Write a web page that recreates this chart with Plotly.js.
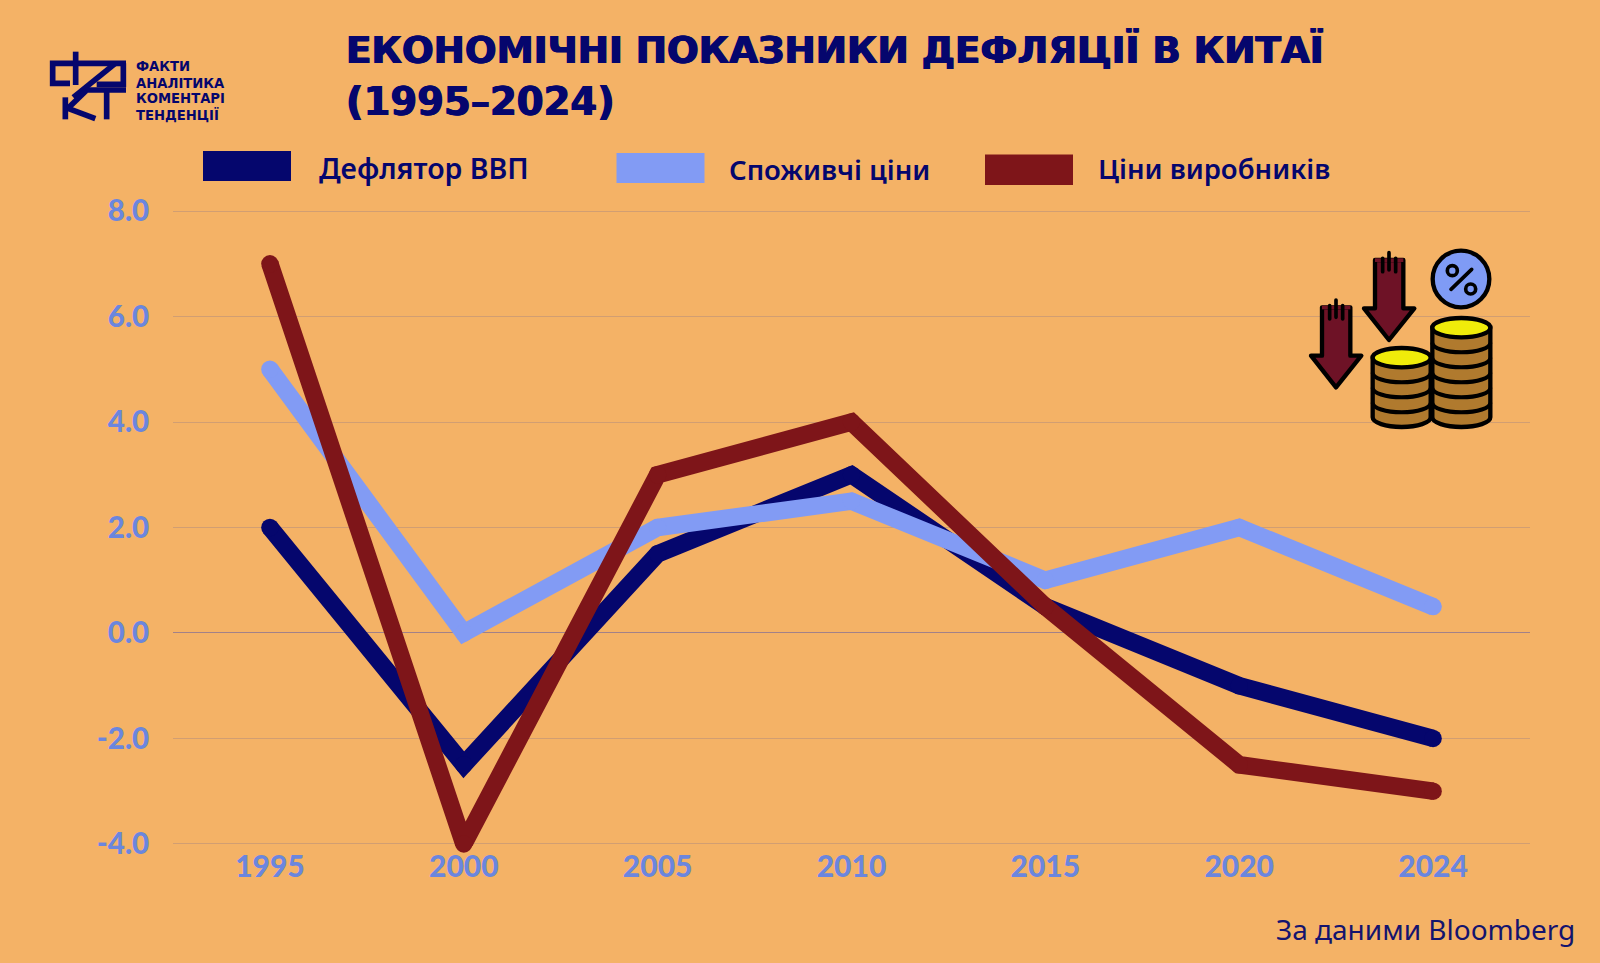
<!DOCTYPE html>
<html>
<head>
<meta charset="utf-8">
<script src="https://cdn.plot.ly/plotly-3.0.1.min.js"></script>
<style>html,body{margin:0;padding:0;background:#f4b266;overflow:hidden}#chart{width:1600px;height:963px}</style>
</head>
<body>
<div id="chart"></div>
<script>
const years = ['1995','2000','2005','2010','2015','2020','2024'];
const deflator = [2, -2.5, 1.5, 3, 0.5, -1, -2];
const consumer = [5, 0, 2, 2.5, 1, 2, 0.5];
const producer = [7, -4, 3, 4, 0.5, -2.5, -3];
const seriesNames = ['Дефлятор ВВП', 'Споживчі ціни', 'Ціни виробників'];
const seriesColors = ['#05066d', '#829bf4', '#7e1519'];
const yTickVals = [-4, -2, 0, 2, 4, 6, 8];
const yTickText = ['-4.0', '-2.0', '0.0', '2.0', '4.0', '6.0', '8.0'];
const titleLines = ['ЕКОНОМІЧНІ ПОКАЗНИКИ ДЕФЛЯЦІЇ В КИТАЇ', '(1995–2024)'];
const logoLines = ['ФАКТИ', 'АНАЛІТИКА', 'КОМЕНТАРІ', 'ТЕНДЕНЦІЇ'];
const sourceText = 'За даними Bloomberg';

const W = 1600, H = 963, L = 173, R = 1530, T = 209, B = 846;
const px = x => (x - L) / (R - L);
const py = y => (B - y) / (B - T);
const navy = '#05066d';

const traces = [deflator, consumer, producer].map((vals, i) => ({
  type: 'scatter', mode: 'lines+markers', name: seriesNames[i], x: years, y: vals,
  line: {color: seriesColors[i], width: 17.5, shape: 'linear'},
  marker: {color: seriesColors[i], size: 17.5, line: {width: 0}},
  cliponaxis: false, showlegend: false, hoverinfo: 'x+y+name'
}));

function text(x, y, t, size, color, family, weight, anchor, shadow) {
  return {xref: 'paper', yref: 'paper', x: px(x), y: py(y), text: t, showarrow: false,
    xanchor: anchor || 'left', yanchor: 'middle', align: 'left',
    font: {size: size, color: color, family: family, weight: weight || 400, shadow: shadow || 'none'}};
}
const titleFont = '"DejaVu Sans", sans-serif';
const heavy = '0.7px 0 0 ' + navy + ', -0.7px 0 0 ' + navy;
const annotations = [
  text(344, 50, titleLines[0], 37.3, navy, titleFont, 700, 'left', heavy),
  text(344, 102, titleLines[1], 38.5, navy, titleFont, 700, 'left', heavy),
  text(317, 168, seriesNames[0], 28.5, navy, '"Noto Sans", sans-serif', 600),
  text(727, 169.5, seriesNames[1], 27.5, navy, '"Noto Sans", sans-serif', 600),
  text(1096, 168.5, seriesNames[2], 27.5, navy, '"Noto Sans", sans-serif', 600),
  text(1577, 929, sourceText, 28, '#14146e', '"Noto Sans", sans-serif', 400, 'right'),
  text(134, 66.5, logoLines[0], 13.2, navy, '"DejaVu Sans", sans-serif', 700),
  text(134, 83, logoLines[1], 13.2, navy, '"DejaVu Sans", sans-serif', 700),
  text(134, 99, logoLines[2], 13.2, navy, '"DejaVu Sans", sans-serif', 700),
  text(134, 115, logoLines[3], 13.2, navy, '"DejaVu Sans", sans-serif', 700)
];

function swatch(x0, x1, y0, y1, color) {
  return {type: 'rect', xref: 'paper', yref: 'paper', x0: px(x0), x1: px(x1), y0: py(y1), y1: py(y0),
    fillcolor: color, line: {width: 0}, layer: 'above'};
}
const shapes = [
  swatch(203, 291, 151, 181, seriesColors[0]),
  swatch(616.5, 704.5, 153, 183, seriesColors[1]),
  swatch(985, 1073, 154.5, 185, seriesColors[2])
];

const logoSvg = `<svg xmlns="http://www.w3.org/2000/svg" width="600" height="270" viewBox="0 0 600 270">
<g fill="none" stroke="${navy}" stroke-width="17" stroke-linejoin="miter">
<path d="M258 70H38V130H90"/><path d="M107 35V135"/><path d="M250 70V133H170"/>
<path d="M226 70L100 172"/><path d="M135 150H258"/><path d="M200 150V238"/>
<path d="M76 172V238"/><path d="M84 205L138 152"/><path d="M84 205L166 236"/>
</g></svg>`;

function arrow(dx, dy) {
  return `<g transform="translate(${dx} ${dy})">
  <path d="M285 90V235H252L327 330L403 235H370V90Z" fill="#6e1226" stroke="#000" stroke-width="13" stroke-linejoin="round"/>
  <path d="M285 85H370V96H285Z" fill="#6e1226"/>
  <path d="M308 85V125M327 68V120M347 85V125" stroke="#000" stroke-width="11" stroke-linecap="round" fill="none"/></g>`;
}
function coins(cx, topY, bands) {
  const rx = 87, ry = 29, lx = cx - rx, rxx = cx + rx, bot = 562;
  let s = `<path d="M${lx} ${topY}V${bot}A${rx} ${ry} 0 0 0 ${rxx} ${bot}V${topY}Z" fill="#b07a2e" stroke="#000" stroke-width="13"/>`;
  bands.forEach(y => { s += `<path d="M${lx} ${y}A${rx} ${ry} 0 0 0 ${rxx} ${y}" fill="none" stroke="#000" stroke-width="12"/>`; });
  s += `<ellipse cx="${cx}" cy="${topY}" rx="${rx}" ry="${ry}" fill="#f0ec0a" stroke="#000" stroke-width="13"/>`;
  return s;
}
const iconSvg = `<svg xmlns="http://www.w3.org/2000/svg" width="720" height="630" viewBox="0 0 720 630">
${arrow(0,0)}${arrow(-159,142)}
${coins(365,383,[428,473,518])}
${coins(544,293,[338,383,428,473,518])}
<circle cx="543" cy="147" r="85" fill="#7f9bf5" stroke="#000" stroke-width="13"/>
<path d="M513 178L575 118" stroke="#000" stroke-width="11" stroke-linecap="round"/>
<circle cx="517" cy="122" r="15" fill="none" stroke="#000" stroke-width="11"/>
<circle cx="572" cy="177" r="15" fill="none" stroke="#000" stroke-width="11"/>
</svg>`;

function image(svg, x, y, w, h) {
  return {source: 'data:image/svg+xml;charset=utf-8,' + encodeURIComponent(svg), xref: 'paper', yref: 'paper',
    x: px(x), y: py(y), sizex: w / (R - L), sizey: h / (B - T), xanchor: 'left', yanchor: 'top',
    sizing: 'stretch', layer: 'above'};
}
const images = [image(logoSvg, 40, 40, 200, 90), image(iconSvg, 1280, 230, 240, 210)];

const tickFontY = {family: 'Lato, sans-serif', size: 29.5, color: '#6b86de', weight: 900};
const tickFontX = {family: 'Lato, sans-serif', size: 30, color: '#6b86de', weight: 900};
const layout = {
  width: W, height: H,
  margin: {l: L, r: W - R, t: T, b: H - B, pad: 0},
  paper_bgcolor: '#f4b266', plot_bgcolor: '#f4b266',
  showlegend: false, hovermode: 'closest',
  xaxis: {type: 'category', range: [-0.5, 6.5], categoryorder: 'array', categoryarray: years,
    showgrid: false, zeroline: false, showline: false, ticks: '',
    tickfont: tickFontX, fixedrange: true},
  yaxis: {range: [-4.04, 8.04], tickmode: 'array', tickvals: yTickVals, ticktext: yTickText,
    showgrid: true, gridcolor: 'rgba(110,100,150,0.26)', gridwidth: 1,
    zeroline: true, zerolinecolor: 'rgba(80,80,170,0.5)', zerolinewidth: 1, showline: false,
    ticks: 'outside', ticklen: 17, tickcolor: 'rgba(0,0,0,0)', tickfont: tickFontY, fixedrange: true},
  annotations, shapes, images
};
Plotly.newPlot('chart', traces, layout, {displayModeBar: false});
</script>
</body>
</html>
